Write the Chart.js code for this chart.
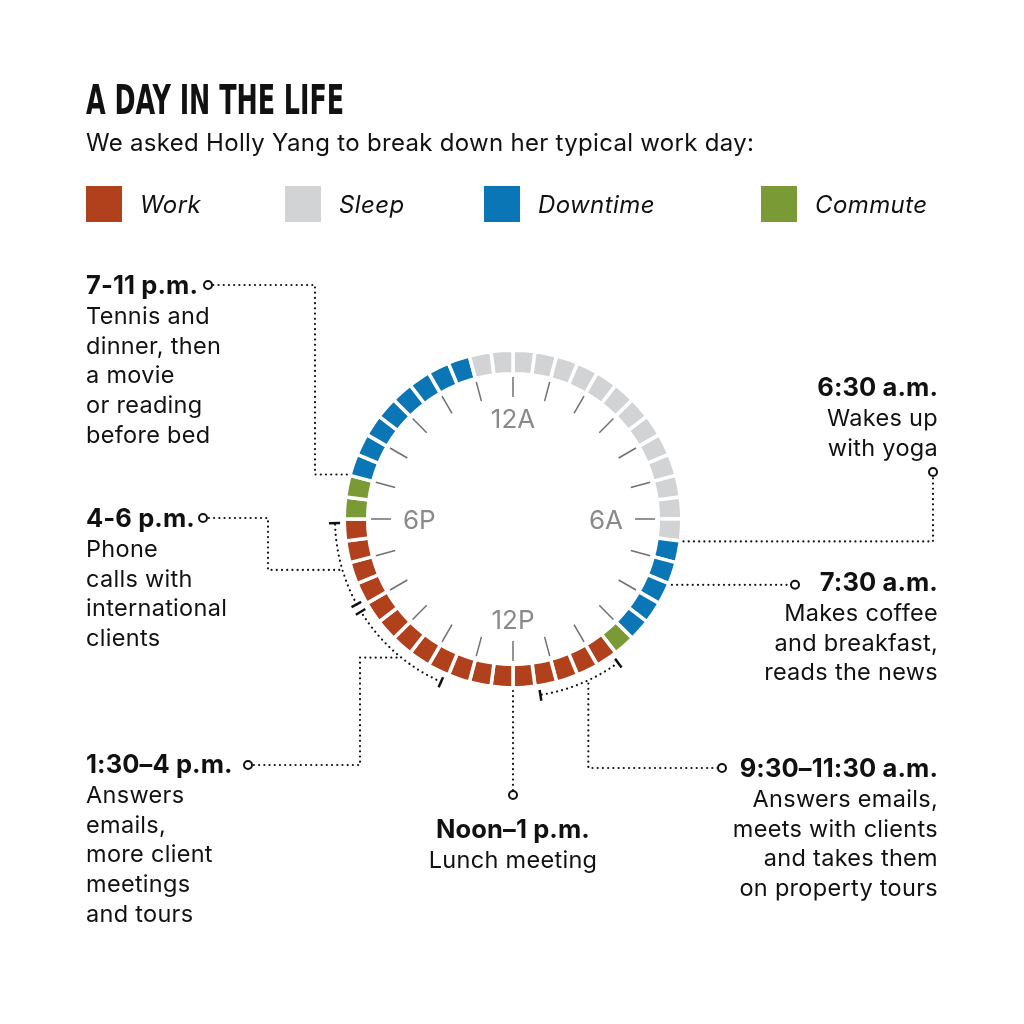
<!DOCTYPE html>
<html>
<head>
<meta charset="utf-8">
<title>A Day in the Life</title>
<script src="https://cdn.jsdelivr.net/npm/chart.js@4.4.1/dist/chart.umd.min.js"></script>
<style>
  html, body { margin: 0; padding: 0; background: #fff; }
  #page { position: relative; width: 1024px; height: 1024px; overflow: hidden;
    font-family: Inter, "Noto Sans", sans-serif; color: #111; }
  #clock { position: absolute; left: 0; top: 0; }
  #title { position: absolute; left: 86px; top: 80px; margin: 0; white-space: nowrap;
    font-family: "Liberation Sans Narrow", "DejaVu Sans Condensed", sans-serif;
    font-weight: 700; font-size: 40px; line-height: 40px; transform: scaleX(0.705); transform-origin: 0 0; }
  #subtitle { position: absolute; left: 86px; top: 128px; font-size: 24px; letter-spacing: 0.3px; line-height: 30px; white-space: nowrap; }
  .key { position: absolute; top: 186px; height: 36px; display: flex; align-items: center; white-space: nowrap; }
  .key .sw { width: 36px; height: 36px; display: inline-block; margin-right: 18px; }
  .key span { font-style: italic; font-size: 24px; letter-spacing: 0.4px; }
  .note { position: absolute; font-size: 23.5px; letter-spacing: 0.3px; line-height: 29.8px; white-space: nowrap; }
  .note b { font-size: 25.5px; letter-spacing: 0.1px; font-weight: 700; }
  .hour { position: absolute; font-size: 26px; line-height: 19px; color: #8a8a8a; white-space: nowrap; }
</style>
</head>
<body>
<div id="page">
  <canvas id="clock" width="1024" height="1024"></canvas>
  <h1 id="title">A DAY IN THE LIFE</h1>
  <div id="subtitle">We asked Holly Yang to break down her typical work day:</div>
</div>
<script>
// activities and their colours
const activities = ["Work", "Sleep", "Downtime", "Commute"];
const activityColors = ["#b1401c", "#d1d3d4", "#0b76b6", "#7a9a35"];

// the day from midnight, block by block (hours)
const blockActivity = ["Sleep", "Downtime", "Commute", "Work", "Commute", "Downtime", "Sleep"];
const blockHours = [6.5, 2.5, 0.5, 8.5, 1, 4, 1];

const hourLabels = ["12A", "6A", "12P", "6P"];
const hourLabelAt = [0, 6, 12, 18];

const noteTitles = ["7-11 p.m.", "4-6 p.m.", "1:30–4 p.m.", "Noon–1 p.m.", "9:30–11:30 a.m.", "6:30 a.m.", "7:30 a.m."];
const noteLines = [
  ["Tennis and", "dinner, then", "a movie", "or reading", "before bed"],
  ["Phone", "calls with", "international", "clients"],
  ["Answers", "emails,", "more client", "meetings", "and tours"],
  ["Lunch meeting"],
  ["Answers emails,", "meets with clients", "and takes them", "on property tours"],
  ["Wakes up", "with yoga"],
  ["Makes coffee", "and breakfast,", "reads the news"]
];
const noteStart = [19, 16, 13.5, 12, 9.5, 6.5, 7.5];
const noteEnd = [23, 18, 16, 13, 11.5, 6.5, 7.5];

// layout of the text boxes and leader lines
const keyLeft = [86, 285, 484, 761];
const noteBoxes = [
  { left: 86, top: 270 },
  { left: 86, top: 503 },
  { left: 86, top: 749 },
  { center: 513, top: 814 },
  { right: 86, top: 753 },
  { right: 86, top: 372 },
  { right: 86, top: 567 }
];
const leaders = [
  { from: "ring", at: 19, route: [["x", 315], ["y", 285], ["x", 208]] },
  { from: "bracket", at: 16.91, route: [["x", 268], ["y", 518], ["x", 203]] },
  { from: "bracket", at: 14.67, route: [["x", 360], ["y", 765], ["x", 248]] },
  { from: "ring", at: 12, route: [["y", 795]] },
  { from: "bracket", at: 10.36, route: [["y", 768], ["x", 722]] },
  { from: "ring", at: 6.5, route: [["x", 933], ["y", 472]] },
  { from: "ring", at: 7.5, route: [["x", 795]] }
];

const page = document.getElementById("page");

// legend
activities.forEach((a, i) => {
  const k = document.createElement("div");
  k.className = "key";
  k.style.left = keyLeft[i] + "px";
  k.innerHTML = '<i class="sw" style="background:' + activityColors[i] + '"></i><span>' + a + "</span>";
  page.appendChild(k);
});

// notes
noteTitles.forEach((t, i) => {
  const d = document.createElement("div");
  const box = noteBoxes[i];
  d.className = "note";
  d.style.top = box.top + "px";
  if (box.left !== undefined) {
    d.style.left = box.left + "px";
  } else if (box.right !== undefined) {
    d.style.right = box.right + "px";
    d.style.textAlign = "right";
  } else {
    d.style.left = (box.center - 200) + "px";
    d.style.width = "400px";
    d.style.textAlign = "center";
  }
  d.innerHTML = "<b>" + t + "</b><br>" + noteLines[i].join("<br>");
  page.appendChild(d);
});

// one slot per half hour
const slotActivity = [];
blockActivity.forEach((a, i) => {
  for (let k = 0; k < blockHours[i] * 2; k++) slotActivity.push(a);
});
const slotHours = slotActivity.map(() => 0.5);
const slotColors = slotActivity.map(a => activityColors[activities.indexOf(a)]);

const GAP = 3.5;
const OUTER = 167 + GAP / 2;
const INNER = 147 - GAP / 2;

const clockDecor = {
  id: "clockDecor",
  afterDatasetsDraw(chart) {
    const ctx = chart.ctx;
    const arcs = chart.getDatasetMeta(0).data;
    const cx = arcs[0].x;
    const cy = arcs[0].y;
    const R = arcs[0].outerRadius - GAP / 2;
    const a0 = arcs[0].startAngle;
    const a1 = arcs[arcs.length - 1].endAngle;
    const ang = h => a0 + (a1 - a0) * h / 24;
    const pt = (h, r) => [cx + r * Math.cos(ang(h)), cy + r * Math.sin(ang(h))];

    ctx.save();
    // hour ticks
    ctx.strokeStyle = "#707070";
    ctx.lineWidth = 1.5;
    for (let h = 0; h < 24; h++) {
      const p = pt(h, 122), q = pt(h, 142);
      ctx.beginPath();
      ctx.moveTo(p[0], p[1]);
      ctx.lineTo(q[0], q[1]);
      ctx.stroke();
    }

    const BR = 178;
    const inset = 0.09;
    leaders.forEach((l, i) => {
      let start;
      ctx.strokeStyle = "#111";
      if (l.from === "bracket") {
        // dotted arc with end ticks
        ctx.lineWidth = 2.2;
        ctx.lineCap = "round";
        ctx.setLineDash([0.01, 5.2]);
        ctx.beginPath();
        ctx.arc(cx, cy, BR, ang(noteStart[i] + inset), ang(noteEnd[i] - inset));
        ctx.stroke();
        ctx.setLineDash([]);
        ctx.lineCap = "butt";
        ctx.lineWidth = 2.5;
        [noteStart[i] + inset, noteEnd[i] - inset].forEach(h => {
          const p = pt(h, BR - 5), q = pt(h, BR + 6);
          ctx.beginPath();
          ctx.moveTo(p[0], p[1]);
          ctx.lineTo(q[0], q[1]);
          ctx.stroke();
        });
        start = pt(l.at, BR + 3);
      } else {
        start = pt(l.at, R + 5);
      }
      // leader
      const path = [start];
      let cur = start.slice();
      l.route.forEach(([axis, v]) => {
        cur = axis === "x" ? [v, cur[1]] : [cur[0], v];
        path.push(cur);
      });
      ctx.lineWidth = 2.2;
      ctx.lineCap = "round";
      ctx.setLineDash([0.01, 5.2]);
      ctx.beginPath();
      ctx.moveTo(path[0][0], path[0][1]);
      path.slice(1).forEach(p => ctx.lineTo(p[0], p[1]));
      ctx.stroke();
      ctx.setLineDash([]);
      // end circle
      ctx.lineWidth = 2;
      ctx.fillStyle = "#fff";
      ctx.beginPath();
      ctx.arc(cur[0], cur[1], 4, 0, Math.PI * 2);
      ctx.fill();
      ctx.stroke();
    });
    ctx.restore();

    // hour labels as text
    if (!chart._hourLabelsDone) {
      chart._hourLabelsDone = true;
      hourLabels.forEach((t, i) => {
        const a = ang(hourLabelAt[i]);
        const p = pt(hourLabelAt[i], 110);
        const d = document.createElement("div");
        d.className = "hour";
        d.textContent = t;
        d.style.left = p[0] + "px";
        d.style.top = p[1] + "px";
        const tx = -50 - 50 * Math.cos(a);
        const ty = -50 - 50 * Math.sin(a);
        d.style.transform = "translate(" + tx + "%," + ty + "%)";
        page.appendChild(d);
      });
    }
  }
};

new Chart(document.getElementById("clock"), {
  type: "doughnut",
  data: {
    labels: slotActivity,
    datasets: [{
      data: slotHours,
      backgroundColor: slotColors,
      borderColor: "#fff",
      borderWidth: GAP,
      borderJoinStyle: "miter"
    }]
  },
  options: {
    responsive: false,
    animation: false,
    events: [],
    radius: OUTER,
    cutout: (INNER / OUTER * 100) + "%",
    layout: { padding: { left: 2, top: 14 } },
    plugins: {
      legend: { display: false },
      tooltip: { enabled: false }
    }
  },
  plugins: [clockDecor]
});
</script>
</body>
</html>
